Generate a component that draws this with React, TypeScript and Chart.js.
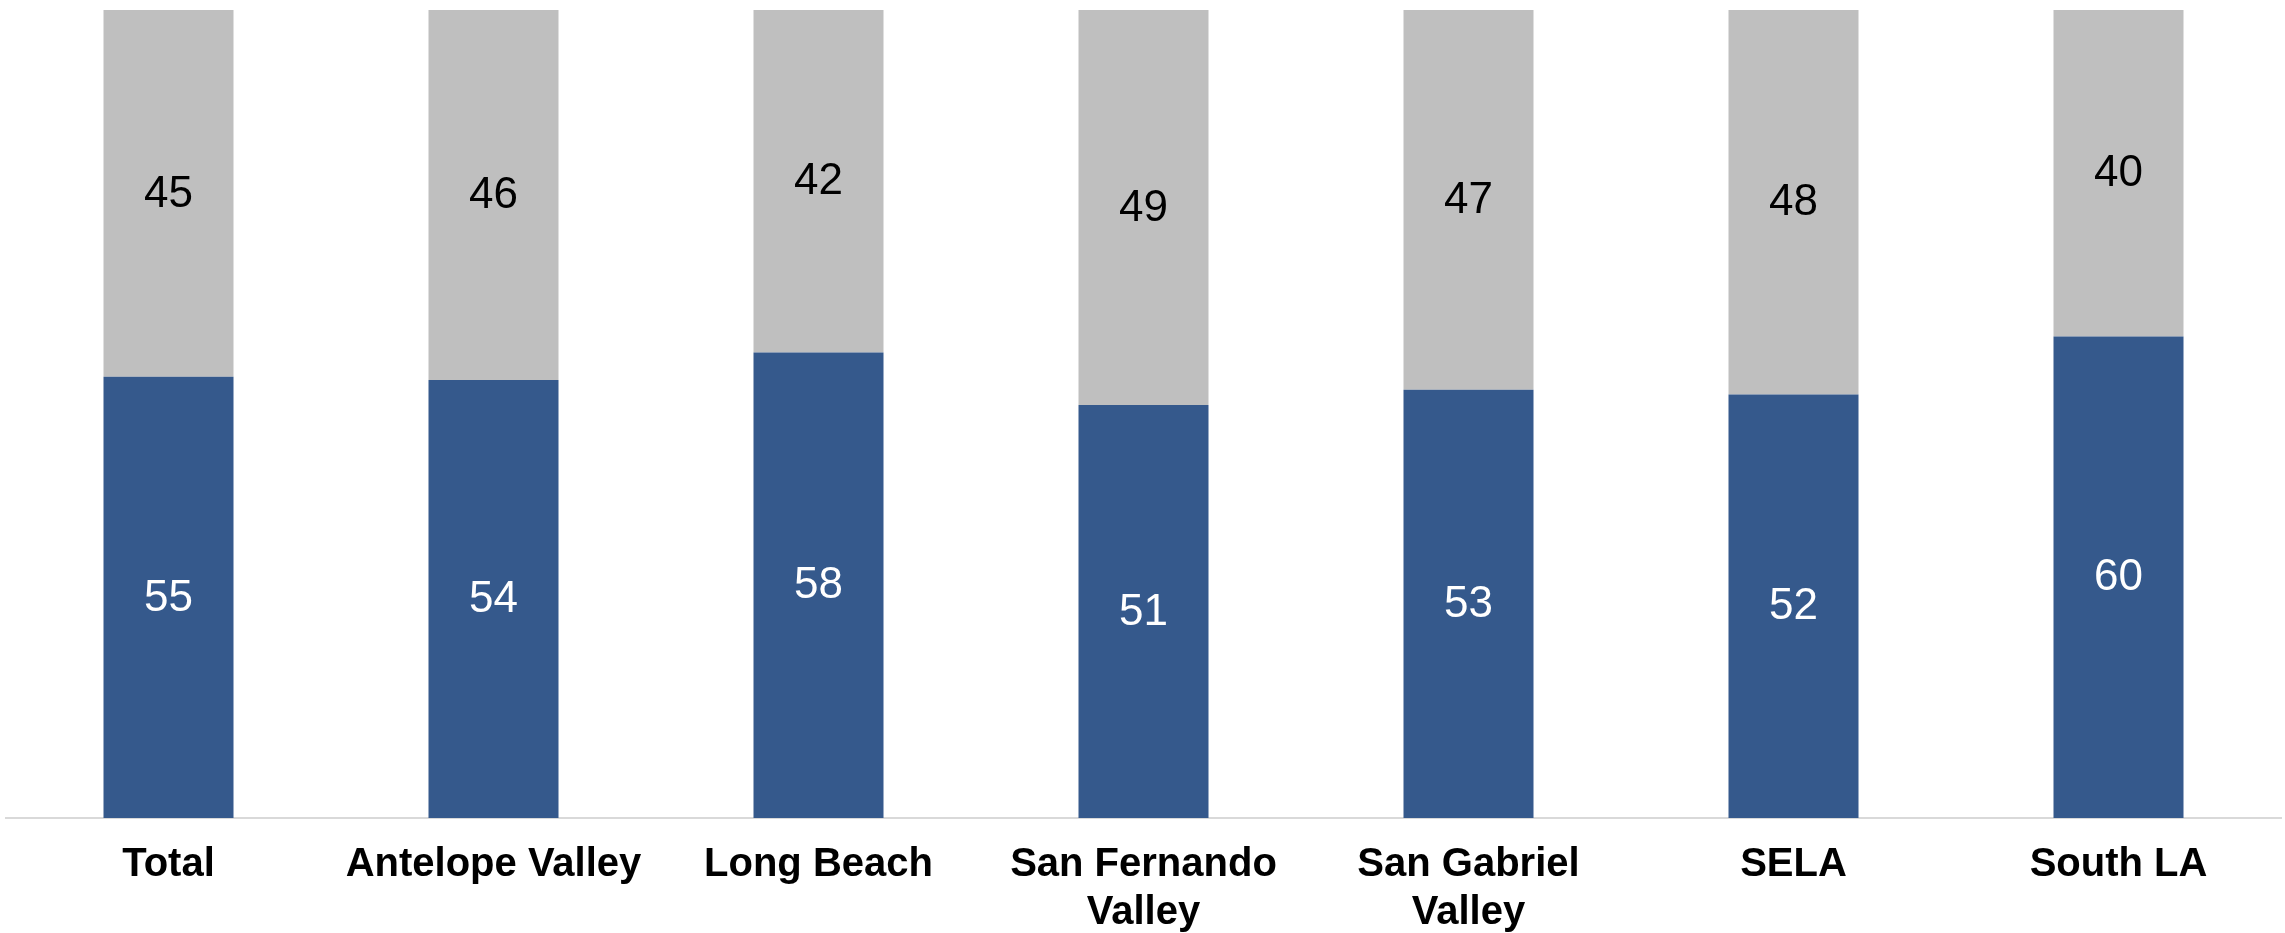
import React, { useEffect, useRef } from "react";
import { Chart, registerables } from "chart.js";

Chart.register(...registerables);

const categories: (string | string[])[] = [
  "Total",
  "Antelope Valley",
  "Long Beach",
  ["San Fernando", "Valley"],
  ["San Gabriel", "Valley"],
  "SELA",
  "South LA",
];
const blueValues = [54.6, 54.2, 57.6, 51.1, 53.0, 52.4, 59.6];
const greyValues = [45.4, 45.8, 42.4, 48.9, 47.0, 47.6, 40.4];

const BLUE = "#35598c";
const GREY = "#bfbfbf";
const FONT = "'Liberation Sans', Arial, sans-serif";

const labelPlugin = {
  id: "barLabels",
  afterDatasetsDraw(chart: any) {
    const ctx = chart.ctx;
    ctx.save();
    ctx.font = `44px ${FONT}`;
    ctx.textAlign = "center";
    ctx.textBaseline = "middle";
    chart.data.datasets.forEach((ds: any, di: number) => {
      const meta = chart.getDatasetMeta(di);
      ctx.fillStyle = di === 0 ? "#ffffff" : "#000000";
      meta.data.forEach((el: any, i: number) => {
        const y = (el.y + el.base) / 2;
        ctx.fillText(String(Math.round(ds.data[i])), el.x, y + 1);
      });
    });
    ctx.restore();
  },
};

export default function App() {
  const ref = useRef<HTMLCanvasElement | null>(null);
  useEffect(() => {
    if (!ref.current) return;
    const chart = new Chart(ref.current, {
      type: "bar",
      data: {
        labels: categories as any,
        datasets: [
          {
            data: blueValues,
            backgroundColor: BLUE,
            barPercentage: 0.4,
            categoryPercentage: 1,
          },
          {
            data: greyValues,
            backgroundColor: GREY,
            barPercentage: 0.4,
            categoryPercentage: 1,
          },
        ],
      },
      options: {
        responsive: false,
        animation: false,
        layout: { padding: { left: 6, right: 4, top: 10, bottom: 0 } },
        plugins: {
          legend: { display: false },
          tooltip: { enabled: false },
        },
        scales: {
          x: {
            stacked: true,
            grid: { display: false, drawTicks: false },
            border: { display: true, color: "#d9d9d9", width: 2 },
            ticks: {
              color: "#000000",
              padding: 23,
              maxRotation: 0,
              autoSkip: false,
              font: { family: FONT, size: 40, weight: "bold", lineHeight: 1.2 },
            },
            afterFit(scale: any) {
              scale.height = 115;
            },
          },
          y: {
            stacked: true,
            display: false,
            min: 0,
            max: 100,
          },
        },
      },
      plugins: [labelPlugin],
    });
    return () => chart.destroy();
  }, []);
  return (
    <div style={{ position: "absolute", left: 0, top: 0, width: 2285, height: 933, background: "#fff" }}>
      <canvas ref={ref} width={2285} height={933} style={{ display: "block" }} />
    </div>
  );
}
